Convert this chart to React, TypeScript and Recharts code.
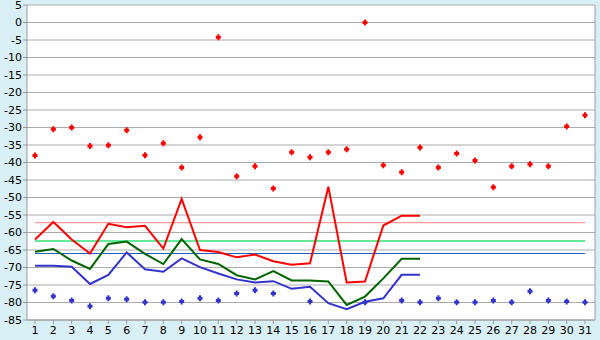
import React from 'react'
import { ComposedChart, Line, Scatter, XAxis, YAxis, CartesianGrid, ReferenceLine } from 'recharts'

const days = [1, 2, 3, 4, 5, 6, 7, 8, 9, 10, 11, 12, 13, 14, 15, 16, 17, 18, 19, 20, 21, 22, 23, 24, 25, 26, 27, 28, 29, 30, 31]

// daily extremes (dots); null where the dot is hidden under a line
const dayMax = [-38, -30.5, -30, -35.3, -35.1, -30.8, -37.9, -34.5, -41.4, -32.8, -4.2, -43.9, -41.1, -47.4, -37.1, -38.5, -37.1, -36.2, 0, -40.8, -42.8, -35.7, -41.4, -37.4, -39.4, -47.1, -41.1, -40.5, -41.1, -29.7, -26.5]
const dayMin = [-76.5, -78.2, -79.4, -81.1, -78.8, -79.1, -79.9, -79.9, -79.7, -78.8, -79.4, -77.4, -76.5, -77.4, null, -79.7, null, null, -79.9, null, -79.4, -79.9, -78.8, -79.9, -79.9, -79.4, -79.9, -76.8, -79.4, -79.7, -79.9]

// daily lines (first 22 days)
const highLine = [-62, -57, -62, -66, -57.5, -58.5, -58.1, -64.6, -50.4, -65, -65.6, -67.1, -66.3, -68.2, -69.2, -68.8, -46.9, -74.3, -74, -58, -55.2, -55.2]
const avgLine = [-65.5, -64.7, -68, -70.4, -63.3, -62.6, -66.1, -69, -61.9, -67.7, -69, -72.2, -73.4, -71, -73.7, -73.7, -74, -80.7, -78.3, -73.1, -67.5, -67.5]
const lowLine = [-69.5, -69.5, -69.8, -74.7, -72.1, -65.7, -70.5, -71.2, -67.4, -69.9, -71.7, -73.4, -74.3, -73.9, -76.1, -75.5, -80.2, -81.9, -79.8, -78.8, -72.1, -72.1]

// monthly averages
const refHigh = -57.2
const refAvg = -62.4
const refLow = -66

const yTicks = [5, 0, -5, -10, -15, -20, -25, -30, -35, -40, -45, -50, -55, -60, -65, -70, -75, -80, -85]

const rows = days.map((d, i) => ({
  day: d,
  hi: highLine[i] ?? null,
  avg: avgLine[i] ?? null,
  lo: lowLine[i] ?? null,
}))
const maxDots = days.map((d, i) => ({ day: d, v: dayMax[i] })).filter(p => p.v != null)
const minDots = days.map((d, i) => ({ day: d, v: dayMin[i] })).filter(p => p.v != null)

const Cross = (props: any) => {
  const { cx, cy, fill } = props
  if (cx == null || cy == null || isNaN(cx) || isNaN(cy)) return null
  const d = `M${cx - 1},${cy - 3}h2v1.5h1.5v3h-1.5v1.5h-2v-1.5h-1.5v-3h1.5z`
  return <path d={d} fill={fill} />
}

const tickStyle = { fill: '#000', fontSize: 11, fontFamily: 'DejaVu Sans' }

export default function App() {
  return (
    <div style={{ position: 'absolute', left: 0, top: 0, width: 600, height: 340, background: '#d9eff6' }}>
      <ComposedChart width={600} height={340} data={rows} margin={{ top: 5, right: 0, bottom: 0, left: 0 }}>
        <CartesianGrid vertical={false} stroke="#aaaaaa" fill="#ffffff" />
        <XAxis
          dataKey="day"
          type="number"
          domain={[0.5636, 31.545]}
          allowDataOverflow
          ticks={days}
          interval={0}
          height={20}
          tickSize={4}
          tickMargin={2}
          tick={tickStyle}
          stroke="#999999"
        />
        <YAxis
          domain={[-85, 5]}
          ticks={yTicks}
          interval={0}
          width={27}
          tickSize={4}
          tickMargin={1}
          tick={tickStyle}
          stroke="#999999"
          allowDataOverflow
        />
        <YAxis yAxisId="right" orientation="right" width={5} domain={[-85, 5]} tick={false} tickLine={false} stroke="#999999" />
        <ReferenceLine segment={[{ x: days[0], y: refHigh }, { x: days[days.length - 1], y: refHigh }]} stroke="#ff8080" strokeWidth={1} />
        <ReferenceLine segment={[{ x: days[0], y: refAvg }, { x: days[days.length - 1], y: refAvg }]} stroke="#33e07a" strokeWidth={1.5} />
        <ReferenceLine segment={[{ x: days[0], y: refLow }, { x: days[days.length - 1], y: refLow }]} stroke="#2060c0" strokeWidth={1} />
        <Line dataKey="hi" stroke="#ff0000" strokeWidth={2} dot={false} isAnimationActive={false} type="linear" />
        <Line dataKey="avg" stroke="#006400" strokeWidth={2} dot={false} isAnimationActive={false} type="linear" />
        <Line dataKey="lo" stroke="#3333cc" strokeWidth={2} dot={false} isAnimationActive={false} type="linear" />
        <Scatter data={maxDots} dataKey="v" fill="#ff0000" shape={<Cross />} isAnimationActive={false} />
        <Scatter data={minDots} dataKey="v" fill="#3333cc" shape={<Cross />} isAnimationActive={false} />
      </ComposedChart>
    </div>
  )
}
